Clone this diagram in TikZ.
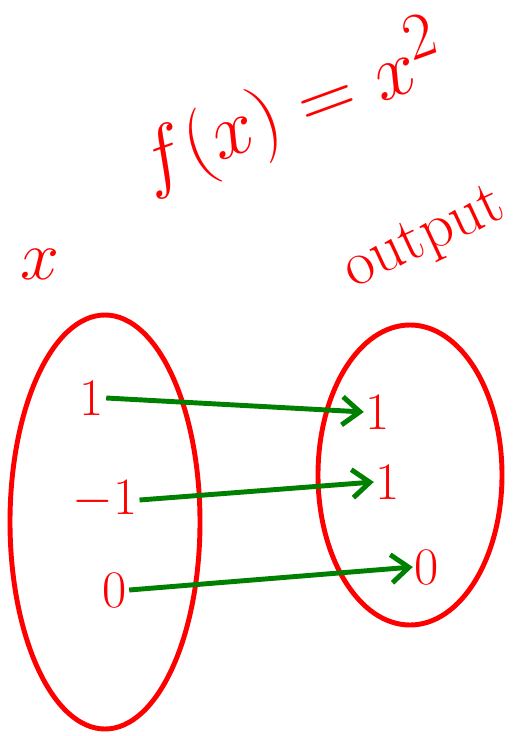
\documentclass[tikz,border=0pt]{standalone}
\usetikzlibrary{arrows.meta}
\definecolor{penred}{RGB}{255,0,0}
\definecolor{pengreen}{RGB}{0,128,0}
\tikzset{
  setbox/.style={draw=penred, line width=2.8pt},
  elem/.style={text=penred, font=\fontsize{30}{30}\selectfont, inner sep=1pt},
  maparrow/.style={draw=pengreen, line width=2.8pt, -{Straight Barb[length=10pt, width=16pt, line width=2.8pt]}},
  handtext/.style={text=penred, inner sep=0pt}
}
\begin{document}
\begin{tikzpicture}[x=0.02cm, y=-0.02cm]
  \useasboundingbox (0,0) rectangle (515,736);
  % rule and headings
  \node[handtext, rotate=20, font=\Huge] (rule) at (292,108) {\scalebox{1.8}{$f(x)=x^2$}};
  \node[handtext, font=\Huge] (dom) at (40,264) {\scalebox{1.6}{$x$}};
  \node[handtext, rotate=25, font=\fontsize{36}{36}\selectfont] (cod) at (425,240) {output};
  % the two sets
  \draw[setbox] (105,522) ellipse (95 and 207);
  \draw[setbox] (410,475) ellipse (92 and 150);
  % inputs
  \node[elem] (in1) at (92,398) {1};
  \node[elem, font=\Huge] (inm1) at (105,500) {\scalebox{1.2}{$-1$}};
  \node[elem] (in0) at (115,590) {0};
  % outputs
  \node[elem] (out1) at (378,412) {1};
  \node[elem] (out1b) at (388,482) {1};
  \node[elem] (out0) at (427,567) {0};
  % mapping
  \draw[maparrow] (in1.east) -- (out1.west);
  \draw[maparrow] (inm1.east) -- (out1b.west);
  \draw[maparrow] (in0.east) -- (out0.west);
\end{tikzpicture}
\end{document}
